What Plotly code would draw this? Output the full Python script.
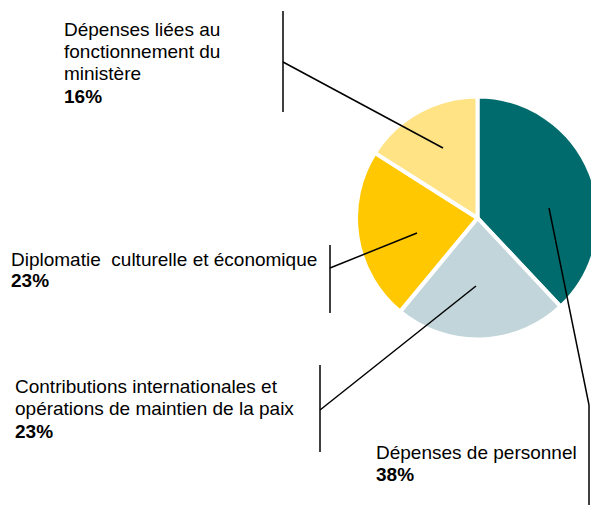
import plotly.graph_objects as go

# ---- data ----
categories = [
    "Dépenses de personnel",
    "Contributions internationales et opérations de maintien de la paix",
    "Diplomatie culturelle et économique",
    "Dépenses liées au fonctionnement du ministère",
]
values = [38, 23, 23, 16]
label_lines = [
    ["Dépenses de personnel"],
    ["Contributions internationales et", "opérations de maintien de la paix"],
    ["Diplomatie  culturelle et économique"],
    ["Dépenses liées au", "fonctionnement du", "ministère"],
]
colors = ["#006B6C", "#C1D5DA", "#FFC800", "#FFE385"]

# page is offset by the default 8px body margin
OFF = 8
W, H = 599 - OFF, 513 - 2 * OFF


def px(x):
    return (x - OFF) / W


def py(y):
    return 1 - (y - OFF) / H


fig = go.Figure()
fig.add_trace(go.Pie(
    labels=categories,
    values=values,
    sort=False,
    direction="clockwise",
    rotation=0,
    textinfo="none",
    hoverinfo="label+percent",
    marker=dict(colors=colors, line=dict(color="white", width=4)),
    domain=dict(x=[px(356), px(599)], y=[py(339.5), py(96.5)]),
    showlegend=False,
))

# label positions (pixel): left x, first baseline, line spacing
label_pos = [(375, 459, 22), (14, 393, 22.5), (10, 266, 21), (63, 36, 22.3)]
FS = 19
font = dict(family="Liberation Sans, Arial, sans-serif", size=FS, color="#000000")
total = sum(values)
for lines, v, (x, y, dy) in zip(label_lines, values, label_pos):
    pct = round(100 * v / total)
    all_lines = lines + [f"<b>{pct}%</b>"]
    for i, t in enumerate(all_lines):
        base = y + i * dy
        fig.add_annotation(
            x=px(x), y=py(base - 0.35 * FS), xref="paper", yref="paper",
            xanchor="left", yanchor="middle", align="left", borderpad=0,
            text=t, showarrow=False, font=font,
        )

# leader lines (pixel coords): vertical bars and connectors
vlines = [(589, 405, 505), (320, 365, 452), (330, 245, 313), (283, 11, 112)]
connectors = [((549, 208), (589, 405)), ((476, 286), (320, 410)),
              ((417, 233), (330, 268)), ((443, 148), (283, 62))]
for x, y0, y1 in vlines:
    fig.add_shape(type="line", xref="paper", yref="paper",
                  x0=px(x), x1=px(x), y0=py(y0), y1=py(y1),
                  line=dict(color="black", width=1.5))
for (x0, y0), (x1, y1) in connectors:
    fig.add_shape(type="line", xref="paper", yref="paper",
                  x0=px(x0), x1=px(x1), y0=py(y0), y1=py(y1),
                  line=dict(color="black", width=1.5))

fig.update_layout(
    width=W, height=H,
    margin=dict(l=0, r=0, t=0, b=0),
    paper_bgcolor="white", plot_bgcolor="white",
)
fig.write_html("out.html")
